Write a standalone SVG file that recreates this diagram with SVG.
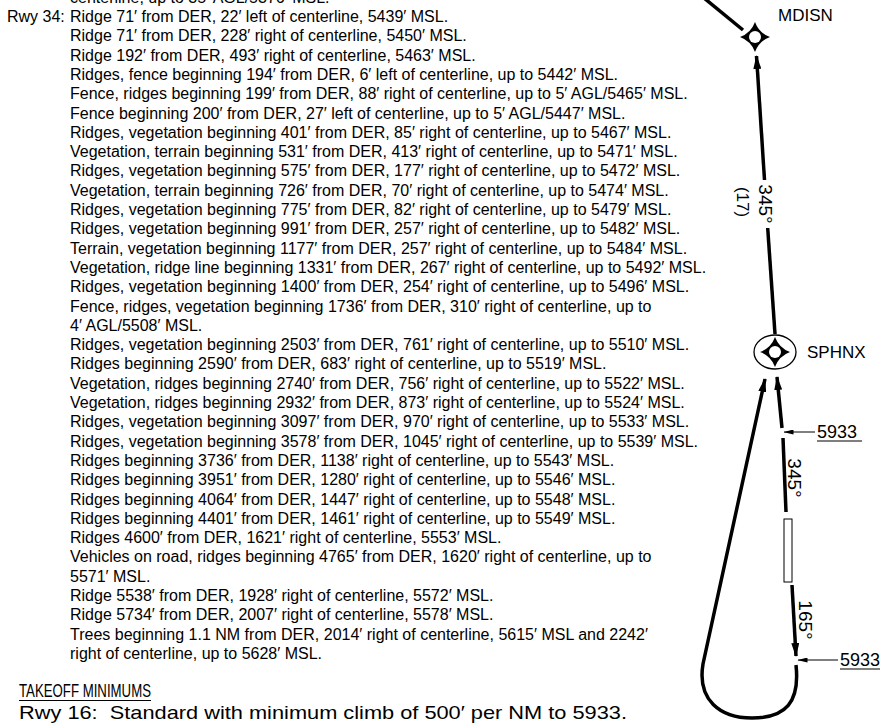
<svg xmlns="http://www.w3.org/2000/svg" width="880" height="723" viewBox="0 0 880 723">
<defs>
<style>
.t{font-family:"Liberation Sans",Arial,sans-serif;font-size:16px;fill:#000}
.h{font-family:"Liberation Sans",Arial,sans-serif;font-size:18px;fill:#000}
.r16{font-family:"Liberation Sans",Arial,sans-serif;font-size:19px;fill:#000}
.lbl{font-family:"Liberation Sans",Arial,sans-serif;font-size:17px;fill:#000}
.alt{font-family:"Liberation Sans",Arial,sans-serif;font-size:18px;fill:#000}
.crs{font-family:"Liberation Sans",Arial,sans-serif;font-size:19px;fill:#000}
.trk{fill:none;stroke:#000;stroke-width:3.5}
.ldr{fill:none;stroke:#000;stroke-width:1}
.ul{stroke:#000;stroke-width:1.2}
</style>
<marker id="ah" viewBox="0 0 14 8" refX="13" refY="4" markerWidth="14" markerHeight="8" markerUnits="userSpaceOnUse" orient="auto"><path d="M0,0 L14,4 L0,8 Z" fill="#000"/></marker>
<marker id="sa" viewBox="0 0 10 5" refX="9.5" refY="2.5" markerWidth="10" markerHeight="5" markerUnits="userSpaceOnUse" orient="auto"><path d="M0,0 L10,2.5 L0,5 Z" fill="#000"/></marker>
<path id="star" d="M0,-15 Q4,-4 15,0 Q4,4 0,15 Q-4,4 -15,0 Q-4,-4 0,-15 Z"/>
</defs>
<rect width="880" height="723" fill="#fff"/>

<g id="obstacle-text">
<text class="t" x="70" y="3">centerline, up to 35′ AGL/5376′ MSL.</text>
<text class="t" x="7" y="22">Rwy 34:</text>
<text class="t" x="70" y="22">Ridge 71′ from DER, 22′ left of centerline, 5439′ MSL.</text>
<text class="t" x="70" y="41.3">Ridge 71′ from DER, 228′ right of centerline, 5450′ MSL.</text>
<text class="t" x="70" y="60.6">Ridge 192′ from DER, 493′ right of centerline, 5463′ MSL.</text>
<text class="t" x="70" y="79.9">Ridges, fence beginning 194′ from DER, 6′ left of centerline, up to 5442′ MSL.</text>
<text class="t" x="70" y="99.2">Fence, ridges beginning 199′ from DER, 88′ right of centerline, up to 5′ AGL/5465′ MSL.</text>
<text class="t" x="70" y="118.5">Fence beginning 200′ from DER, 27′ left of centerline, up to 5′ AGL/5447′ MSL.</text>
<text class="t" x="70" y="137.8">Ridges, vegetation beginning 401′ from DER, 85′ right of centerline, up to 5467′ MSL.</text>
<text class="t" x="70" y="157.1">Vegetation, terrain beginning 531′ from DER, 413′ right of centerline, up to 5471′ MSL.</text>
<text class="t" x="70" y="176.4">Ridges, vegetation beginning 575′ from DER, 177′ right of centerline, up to 5472′ MSL.</text>
<text class="t" x="70" y="195.7">Vegetation, terrain beginning 726′ from DER, 70′ right of centerline, up to 5474′ MSL.</text>
<text class="t" x="70" y="215">Ridges, vegetation beginning 775′ from DER, 82′ right of centerline, up to 5479′ MSL.</text>
<text class="t" x="70" y="234.3">Ridges, vegetation beginning 991′ from DER, 257′ right of centerline, up to 5482′ MSL.</text>
<text class="t" x="70" y="253.6">Terrain, vegetation beginning 1177′ from DER, 257′ right of centerline, up to 5484′ MSL.</text>
<text class="t" x="70" y="272.9">Vegetation, ridge line beginning 1331′ from DER, 267′ right of centerline, up to 5492′ MSL.</text>
<text class="t" x="70" y="292.2">Ridges, vegetation beginning 1400′ from DER, 254′ right of centerline, up to 5496′ MSL.</text>
<text class="t" x="70" y="311.5">Fence, ridges, vegetation beginning 1736′ from DER, 310′ right of centerline, up to</text>
<text class="t" x="70" y="330.8">4′ AGL/5508′ MSL.</text>
<text class="t" x="70" y="350.1">Ridges, vegetation beginning 2503′ from DER, 761′ right of centerline, up to 5510′ MSL.</text>
<text class="t" x="70" y="369.4">Ridges beginning 2590′ from DER, 683′ right of centerline, up to 5519′ MSL.</text>
<text class="t" x="70" y="388.7">Vegetation, ridges beginning 2740′ from DER, 756′ right of centerline, up to 5522′ MSL.</text>
<text class="t" x="70" y="408">Vegetation, ridges beginning 2932′ from DER, 873′ right of centerline, up to 5524′ MSL.</text>
<text class="t" x="70" y="427.3">Ridges, vegetation beginning 3097′ from DER, 970′ right of centerline, up to 5533′ MSL.</text>
<text class="t" x="70" y="446.6">Ridges, vegetation beginning 3578′ from DER, 1045′ right of centerline, up to 5539′ MSL.</text>
<text class="t" x="70" y="465.9">Ridges beginning 3736′ from DER, 1138′ right of centerline, up to 5543′ MSL.</text>
<text class="t" x="70" y="485.2">Ridges beginning 3951′ from DER, 1280′ right of centerline, up to 5546′ MSL.</text>
<text class="t" x="70" y="504.5">Ridges beginning 4064′ from DER, 1447′ right of centerline, up to 5548′ MSL.</text>
<text class="t" x="70" y="523.8">Ridges beginning 4401′ from DER, 1461′ right of centerline, up to 5549′ MSL.</text>
<text class="t" x="70" y="543.1">Ridges 4600′ from DER, 1621′ right of centerline, 5553′ MSL.</text>
<text class="t" x="70" y="562.4">Vehicles on road, ridges beginning 4765′ from DER, 1620′ right of centerline, up to</text>
<text class="t" x="70" y="581.7">5571′ MSL.</text>
<text class="t" x="70" y="601">Ridge 5538′ from DER, 1928′ right of centerline, 5572′ MSL.</text>
<text class="t" x="70" y="620.3">Ridge 5734′ from DER, 2007′ right of centerline, 5578′ MSL.</text>
<text class="t" x="70" y="639.6">Trees beginning 1.1 NM from DER, 2014′ right of centerline, 5615′ MSL and 2242′</text>
<text class="t" x="70" y="658.9">right of centerline, up to 5628′ MSL.</text>
</g>

<g id="takeoff-minimums">
<text class="h" x="19" y="697" textLength="132" lengthAdjust="spacingAndGlyphs">TAKEOFF MINIMUMS</text>
<line class="ul" x1="19" y1="700.5" x2="151" y2="700.5"/>
<text class="r16" x="19" y="719" xml:space="preserve" textLength="608" lengthAdjust="spacingAndGlyphs">Rwy 16:  Standard with minimum climb of 500′ per NM to 5933.</text>
</g>

<g id="connectors">
<line class="trk" x1="704" y1="-2" x2="743" y2="30"/>
<line class="trk" x1="767.7" y1="228" x2="775" y2="334"/>
<line class="trk" x1="764.5" y1="180" x2="756.5" y2="56" marker-end="url(#ah)"/>
<line class="trk" x1="782" y1="428" x2="777" y2="377" marker-end="url(#ah)"/>
<line class="trk" x1="783" y1="438" x2="786" y2="512"/>
<line class="trk" x1="792" y1="585" x2="796" y2="656" marker-end="url(#ah)"/>
<path class="trk" d="M796,665 C800,702 786,718 752,718 C720,718 697,700 703,664 L765,379" marker-end="url(#ah)"/>
<line class="ldr" x1="815" y1="432" x2="784" y2="432" marker-end="url(#sa)"/>
<line class="ldr" x1="838" y1="660" x2="798" y2="660" marker-end="url(#sa)"/>
</g>

<g id="runway">
<rect x="784" y="519" width="8" height="63" fill="#fff" stroke="#000" stroke-width="1"/>
</g>

<g id="MDISN">
<use href="#star" x="755" y="37"/>
<circle cx="755" cy="37" r="6" fill="#fff"/>
<text class="lbl" x="778" y="21">MDISN</text>
</g>

<g id="SPHNX">
<ellipse cx="775" cy="352" rx="21" ry="17" fill="#fff" stroke="#000" stroke-width="1.3"/>
<use href="#star" x="775" y="352"/>
<circle cx="775" cy="352" r="6" fill="#fff"/>
<text class="lbl" x="807" y="358">SPHNX</text>
</g>

<g id="labels">
<text class="crs" transform="translate(759,204) rotate(90)" text-anchor="middle">345°</text>
<text class="lbl" transform="translate(737,202) rotate(90)" text-anchor="middle">(17)</text>
<text class="crs" transform="translate(788,478) rotate(90)" text-anchor="middle">345°</text>
<text class="crs" transform="translate(799,620) rotate(90)" text-anchor="middle">165°</text>
<text class="alt" x="817" y="438">5933</text>
<line class="ul" x1="817" y1="441" x2="862" y2="441"/>
<text class="alt" x="840" y="666">5933</text>
<line class="ul" x1="840" y1="669" x2="880" y2="669"/>
</g>
</svg>
